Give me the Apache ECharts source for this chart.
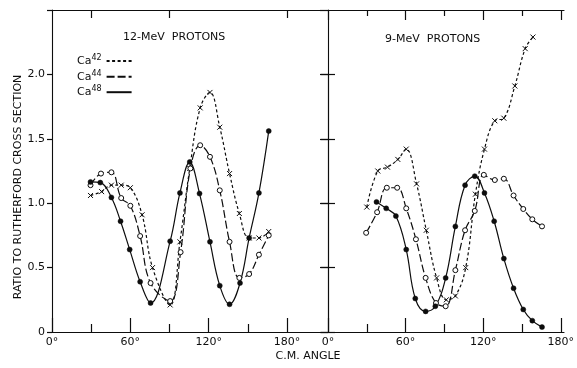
<!DOCTYPE html>
<html><head><meta charset="utf-8">
<script src="https://cdn.jsdelivr.net/npm/echarts@6/dist/echarts.min.js"></script>
<style>html,body{margin:0;padding:0;background:#fff}#c{width:577px;height:368px}</style>
</head><body><div id="c"></div>
<script>
// ---------- data ----------
const seriesNames = ['Ca42', 'Ca44', 'Ca48'];
const panelTitles = ['12-MeV  PROTONS', '9-MeV  PROTONS'];
const xTickValues = [0, 60, 120, 180];
const yTickValues = [0, 0.5, 1.0, 1.5, 2.0];
const xAxisTitle = 'C.M. ANGLE';
const yAxisTitle = 'RATIO TO RUTHERFORD CROSS SECTION';

// 12-MeV protons
const ca42_12_angle = [29.5, 38, 45.5, 53, 60, 69, 77, 90.5, 98, 105.5, 113.5, 121, 128.5, 136, 143.5, 151, 158.5, 166];
const ca42_12_ratio = [1.06, 1.09, 1.14, 1.14, 1.12, 0.91, 0.50, 0.21, 0.70, 1.27, 1.74, 1.86, 1.59, 1.23, 0.92, 0.73, 0.73, 0.78];
const ca44_12_angle = [29.5, 37.5, 45.5, 53, 60, 67.5, 75.5, 90.5, 98.5, 106, 113.5, 121, 128.5, 136, 143.5, 151, 158.5, 166];
const ca44_12_ratio = [1.14, 1.23, 1.24, 1.04, 0.98, 0.745, 0.38, 0.24, 0.62, 1.27, 1.45, 1.36, 1.10, 0.70, 0.42, 0.45, 0.60, 0.75];
const ca48_12_angle = [29.5, 37, 45.5, 52.5, 59.5, 67.5, 75.5, 90.5, 98, 105.5, 113, 121, 128.5, 136, 144, 151, 158.5, 166];
const ca48_12_ratio = [1.165, 1.16, 1.045, 0.86, 0.64, 0.39, 0.225, 0.705, 1.08, 1.32, 1.075, 0.70, 0.36, 0.215, 0.38, 0.73, 1.08, 1.56];

// 9-MeV protons
const ca42_9_angle = [30, 38.5, 46, 54, 60.5, 68.5, 76, 84, 91.5, 98.5, 106.5, 114, 121, 129, 136, 144.5, 152.5, 158.5];
const ca42_9_ratio = [0.97, 1.25, 1.28, 1.34, 1.42, 1.15, 0.79, 0.42, 0.25, 0.28, 0.50, 1.07, 1.42, 1.64, 1.66, 1.91, 2.20, 2.29];
const ca44_9_angle = [29.5, 38, 45.5, 53.5, 60.5, 68, 75.5, 83.5, 91, 98.5, 106, 113.5, 120.5, 129, 136, 143.5, 151, 158, 165.5];
const ca44_9_ratio = [0.77, 0.93, 1.12, 1.12, 0.96, 0.72, 0.42, 0.225, 0.20, 0.48, 0.79, 0.94, 1.22, 1.18, 1.19, 1.06, 0.955, 0.875, 0.82];
const ca48_9_angle = [37.5, 45, 52.5, 60.5, 67.5, 75.5, 83, 91, 98.5, 106, 113.5, 121, 128.5, 136, 143.5, 151, 158, 165.5];
const ca48_9_ratio = [1.01, 0.96, 0.90, 0.64, 0.26, 0.16, 0.20, 0.42, 0.82, 1.14, 1.21, 1.08, 0.86, 0.57, 0.34, 0.175, 0.088, 0.038];

// ---------- chart ----------
const FONT = 'DejaVu Sans';
const INK = '#0d0d0d';
const pts = (a, r) => a.map((x, i) => [x, r[i]]);

const styleOf = {
  Ca42: { symbol: 'path://M0,0L10,10M0,10L10,0', size: 5, lineType: [3, 2.5], item: { color: 'none', borderColor: INK, borderWidth: 1 } },
  Ca44: { symbol: 'circle', size: 5, lineType: [8, 3], item: { color: '#fff', borderColor: INK, borderWidth: 1 } },
  Ca48: { symbol: 'circle', size: 5, lineType: 'solid', item: { color: INK, borderColor: INK, borderWidth: 0.5 } }
};

function mk(name, a, r, xi, yi) {
  const s = styleOf[name];
  return {
    type: 'line', name: name, xAxisIndex: xi, yAxisIndex: yi,
    data: pts(a, r), smooth: 0.4, symbol: s.symbol, symbolSize: s.size, showSymbol: true,
    lineStyle: { color: INK, width: 1.2, type: s.lineType },
    itemStyle: s.item, z: 3, animation: false
  };
}

const baseLabel = { fontFamily: FONT, fontSize: 11, color: INK };
const line = { show: true, lineStyle: { color: INK, width: 1.1 } };
const tickLS = () => ({ color: INK, width: 1.2 });

function bottomX(grid) {
  return {
    gridIndex: grid, type: 'value', min: 0, max: 180, interval: 60, position: 'bottom',
    axisLine: { show: false },
    axisTick: { show: true, inside: true, length: 14, lineStyle: tickLS() },
    minorTick: { show: true, splitNumber: 2, length: 8, lineStyle: tickLS() },
    splitLine: { show: false },
    axisLabel: Object.assign({ margin: 5, customValues: xTickValues, formatter: v => v + '°' }, baseLabel)
  };
}
function topX(grid, major, minor) {
  return {
    gridIndex: grid, type: 'value', min: 0, max: 180, interval: 60, position: 'top',
    axisLine: { show: false },
    axisTick: { show: true, inside: true, length: major, lineStyle: tickLS() },
    minorTick: { show: true, splitNumber: 2, length: minor, lineStyle: tickLS() },
    splitLine: { show: false }, axisLabel: { show: false }
  };
}

const option = {
  backgroundColor: '#fff',
  animation: false,
  textStyle: { fontFamily: FONT },
  title: [
    { text: panelTitles[0], left: 123, top: 32, padding: 0, textStyle: { fontFamily: FONT, fontSize: 11, fontWeight: 'normal', color: INK } },
    { text: panelTitles[1], left: 385, top: 34, padding: 0, textStyle: { fontFamily: FONT, fontSize: 11, fontWeight: 'normal', color: INK } }
  ],
  legend: {
    data: seriesNames, left: 77, top: 54, orient: 'vertical', align: 'right',
    itemWidth: 25, itemHeight: 8, itemGap: 3, padding: 0,
    itemStyle: { opacity: 0 },
    formatter: n => '{a|Ca}{s|' + n.slice(2) + '}',
    textStyle: {
      color: INK,
      rich: {
        a: { fontFamily: FONT, fontSize: 11, color: INK, lineHeight: 14 },
        s: { fontFamily: FONT, fontSize: 8, color: INK, lineHeight: 9, verticalAlign: 'top' }
      }
    }
  },
  grid: [
    { left: 52, top: 10, width: 235, height: 322 },
    { left: 328, top: 10, width: 236, height: 322 },
    { left: 52, top: 10, width: 512, height: 322 },
    { left: 328, top: 74.4, width: 236, height: 257.6 }
  ],
  xAxis: [
    bottomX(0),
    Object.assign(topX(0, 14, 8), { axisTick: { show: true, inside: true, length: 8, customValues: [30, 90, 180], lineStyle: tickLS() }, minorTick: { show: false } }),
    bottomX(1),
    topX(1, 10, 6),
    { gridIndex: 2, type: 'value', min: 0, max: 1, position: 'bottom', axisLine: line, axisTick: { show: false }, axisLabel: { show: false }, splitLine: { show: false },
      name: xAxisTitle, nameLocation: 'middle', nameGap: 19, nameTextStyle: Object.assign({}, baseLabel) },
    { gridIndex: 2, type: 'value', min: 0, max: 1, position: 'top', axisLine: line, axisTick: { show: false }, axisLabel: { show: false }, splitLine: { show: false } },
    { gridIndex: 3, type: 'value', min: 0, max: 1, show: false }
  ],
  yAxis: [
    { gridIndex: 0, type: 'value', min: 0, max: 2.5, interval: 0.5, position: 'left',
      axisLine: line,
      axisTick: { show: true, inside: false, length: 5, lineStyle: tickLS() },
      axisLabel: Object.assign({ margin: 7, customValues: yTickValues, formatter: v => v === 0 ? '0' : v.toFixed(1) }, baseLabel),
      splitLine: { show: false },
      name: yAxisTitle, nameLocation: 'middle', nameGap: 26,
      nameTextStyle: Object.assign({ padding: [0, 32, 0, 0] }, baseLabel) },
    { gridIndex: 1, type: 'value', min: 0, max: 2.5, interval: 0.5, position: 'right',
      axisLine: line,
      axisTick: { show: true, inside: true, length: 8, lineStyle: tickLS() },
      axisLabel: { show: false }, splitLine: { show: false } },
    { gridIndex: 2, type: 'value', min: 0, max: 1, show: false },
    { gridIndex: 3, type: 'value', min: 0, max: 2.0, interval: 0.5, position: 'left',
      axisLine: line,
      axisTick: { show: true, inside: true, length: 7, lineStyle: tickLS() },
      axisLabel: { show: false }, splitLine: { show: false } },
    { gridIndex: 3, type: 'value', min: 0, max: 2.0, interval: 0.5, position: 'left',
      axisLine: { show: false },
      axisTick: { show: true, inside: false, length: 7, lineStyle: tickLS() },
      axisLabel: { show: false }, splitLine: { show: false } }
  ],
  series: [
    mk('Ca42', ca42_12_angle, ca42_12_ratio, 0, 0),
    mk('Ca44', ca44_12_angle, ca44_12_ratio, 0, 0),
    mk('Ca48', ca48_12_angle, ca48_12_ratio, 0, 0),
    mk('Ca42', ca42_9_angle, ca42_9_ratio, 2, 1),
    mk('Ca44', ca44_9_angle, ca44_9_ratio, 2, 1),
    mk('Ca48', ca48_9_angle, ca48_9_ratio, 2, 1)
  ]
};

const chart = echarts.init(document.getElementById('c'), null, { renderer: 'canvas' });
chart.setOption(option);
</script>
</body></html>
